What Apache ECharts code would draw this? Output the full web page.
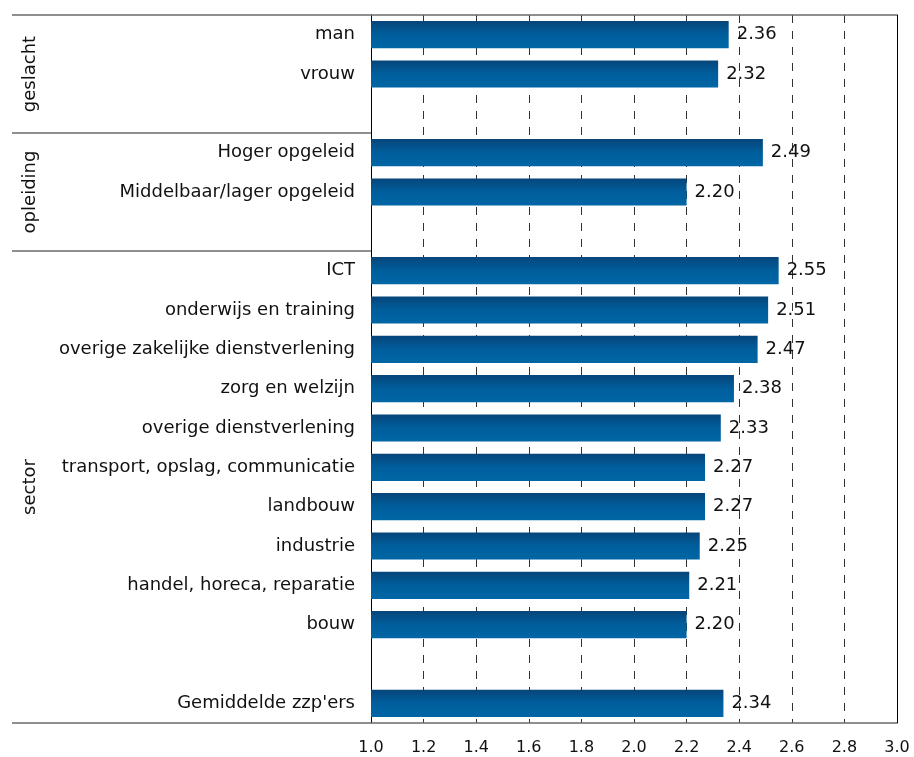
<!DOCTYPE html>
<html><head><meta charset="utf-8">
<script src="https://cdn.jsdelivr.net/npm/echarts@6/dist/echarts.min.js"></script>
<style>html,body{margin:0;padding:0;background:#fff}#c{width:914px;height:757px}</style>
</head><body><div id="c"></div>
<script>
var categories = ['man','vrouw','','Hoger opgeleid','Middelbaar/lager opgeleid','',
  'ICT','onderwijs en training','overige zakelijke dienstverlening','zorg en welzijn',
  'overige dienstverlening','transport, opslag, communicatie','landbouw','industrie',
  'handel, horeca, reparatie','bouw','','Gemiddelde zzp\'ers'];
var values = [2.36,2.32,null,2.49,2.20,null,2.55,2.51,2.47,2.38,2.33,2.27,2.27,2.25,2.21,2.20,null,2.34];
var groups = ['geslacht','opleiding','sector'];
var groupStart = [0,3,6];
var groupEnd = [2,5,17];
var xTicks = [1.0,1.2,1.4,1.6,1.8,2.0,2.2,2.4,2.6,2.8,3.0];

var FONT = 'DejaVu Sans';
var chart = echarts.init(document.getElementById('c'));
var option = {
  animation:false,
  grid:{left:371,right:17,top:15,bottom:34,containLabel:false},
  xAxis:{type:'value',min:xTicks[0],max:xTicks[xTicks.length-1],interval:0.2,
    axisLine:{show:false},axisTick:{show:false},
    axisLabel:{fontFamily:FONT,fontSize:16,color:'#111',margin:17,formatter:function(v){return v.toFixed(1);}},
    splitLine:{show:true,lineStyle:{color:'#333',width:1,type:[8,8]}}},
  yAxis:[{type:'category',data:categories,inverse:true,
    axisLine:{show:true,lineStyle:{color:'#000',width:1}},axisTick:{show:false},
    axisLabel:{fontFamily:FONT,fontSize:18,color:'#111',margin:16}},
    {type:'category',data:categories,inverse:true,position:'right',
    axisLine:{show:true,lineStyle:{color:'#000',width:1}},axisTick:{show:false},axisLabel:{show:false}}],
  series:[{type:'bar',data:values,barCategoryGap:'31%',yAxisIndex:0,
    itemStyle:{color:new echarts.graphic.LinearGradient(0,0,0,1,[
      {offset:0,color:'#06457a'},{offset:0.5,color:'#005e9c'},{offset:1,color:'#0066a6'}])},
    label:{show:true,position:'right',distance:8,fontFamily:FONT,fontSize:18,color:'#111',
      formatter:function(p){return p.value==null?'':p.value.toFixed(2);}}}]
};
chart.setOption(option);

var c0 = chart.convertToPixel({yAxisIndex:0},0);
var c1 = chart.convertToPixel({yAxisIndex:0},1);
var band = c1 - c0;
var xLeft = chart.convertToPixel({xAxisIndex:0},xTicks[0]);
var xRight = chart.convertToPixel({xAxisIndex:0},xTicks[xTicks.length-1]);
function edgeY(i){return chart.convertToPixel({yAxisIndex:0},i) - band/2;}
var els = [];
var lineStyle = {stroke:'#6a6a6a',lineWidth:1.5};
els.push({type:'line',shape:{x1:12,y1:edgeY(0),x2:xRight,y2:edgeY(0)},style:lineStyle,z:10});
els.push({type:'line',shape:{x1:12,y1:edgeY(categories.length),x2:xRight,y2:edgeY(categories.length)},style:lineStyle,z:10});
for (var g=1; g<groups.length; g++){
  var y = edgeY(groupStart[g]);
  els.push({type:'line',shape:{x1:12,y1:y,x2:xLeft,y2:y},style:lineStyle,z:10});
}
for (var g=0; g<groups.length; g++){
  var yc = (edgeY(groupStart[g]) + edgeY(groupEnd[g]+1))/2;
  els.push({type:'text',x:30,y:yc,rotation:Math.PI/2,
    style:{text:groups[g],fontFamily:FONT,fontSize:18,fill:'#111',align:'center',verticalAlign:'middle'},z:10});
}
chart.setOption({graphic:els});
</script></body></html>
